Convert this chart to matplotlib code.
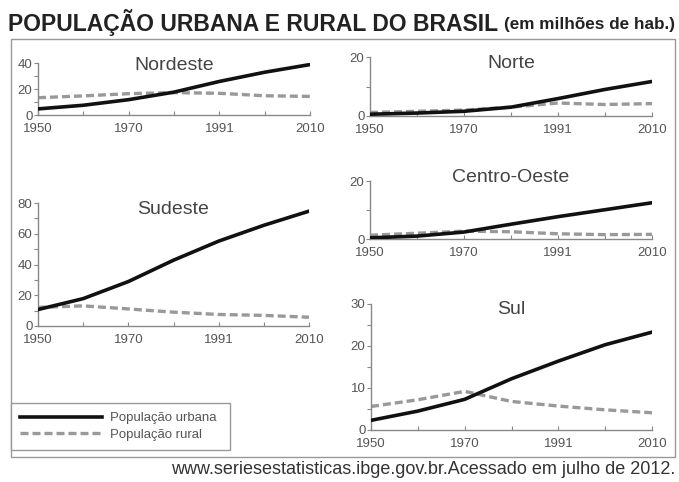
import matplotlib.pyplot as plt
from matplotlib.patches import Rectangle
from matplotlib.lines import Line2D

plt.rcParams['font.family'] = ['Liberation Sans', 'DejaVu Sans']

# censos
anos = ['1950', '1960', '1970', '1980', '1991', '2000', '2010']
anos_rotulo = ['1950', '1970', '1991', '2010']

# milhoes de habitantes
nordeste_urb = [4.7, 7.5, 11.8, 17.6, 25.8, 32.9, 38.8]
nordeste_rur = [13.3, 14.7, 16.4, 17.2, 16.7, 14.8, 14.3]
norte_urb = [0.6, 1.0, 1.6, 3.0, 5.9, 9.0, 11.7]
norte_rur = [1.2, 1.6, 2.0, 3.0, 4.4, 3.9, 4.2]
sudeste_urb = [10.7, 17.8, 28.9, 42.8, 55.2, 65.5, 74.7]
sudeste_rur = [12.1, 13.1, 11.1, 9.0, 7.5, 6.9, 5.7]
co_urb = [0.4, 1.0, 2.4, 5.1, 7.7, 10.1, 12.5]
co_rur = [1.3, 2.0, 2.7, 2.5, 1.8, 1.5, 1.6]
sul_urb = [2.3, 4.5, 7.3, 12.2, 16.4, 20.3, 23.3]
sul_rur = [5.6, 7.2, 9.2, 6.8, 5.7, 4.8, 4.1]

W, H = 679, 482
fig = plt.figure(figsize=(W / 100, H / 100), dpi=100)

def box(x0, x1, ytop, ybot):
    return [x0 / W, 1 - ybot / H, (x1 - x0) / W, (ybot - ytop) / H]

paineis = [
    ('Nordeste', nordeste_urb, nordeste_rur, box(38, 310, 63, 115), 40, 20, 10, 66),
    ('Norte', norte_urb, norte_rur, box(370, 652, 57, 116), 20, 20, 10, 64),
    ('Sudeste', sudeste_urb, sudeste_rur, box(38, 309, 203, 326), 80, 20, 10, 209),
    ('Centro-Oeste', co_urb, co_rur, box(370, 652, 181, 239), 20, 20, 10, 178),
    ('Sul', sul_urb, sul_rur, box(371, 652, 304, 430), 30, 10, 5, 310),
]

x = list(range(len(anos)))
cinza = '#555555'
tracejado = (0, (2.4, 1.2))
for nome, urb, rur, pos, ymax, passo, menor, ytit in paineis:
    ax = fig.add_axes(pos)
    ax.plot(x, rur, color='#999999', lw=2.4, ls=tracejado, zorder=2)
    ax.plot(x, urb, color='#111111', lw=2.6, zorder=3)
    ax.set_xlim(0, len(anos) - 1)
    ax.set_ylim(0, ymax)
    ax.set_xticks([anos.index(a) for a in anos_rotulo])
    ax.set_xticklabels(anos_rotulo)
    ax.set_xticks([1, 3, 5], minor=True)
    ax.set_yticks(range(0, ymax + 1, passo))
    ax.set_yticks(range(0, ymax + 1, menor), minor=True)
    for s in ['top', 'right']:
        ax.spines[s].set_visible(False)
    for s in ['left', 'bottom']:
        ax.spines[s].set_color('#888888')
        ax.spines[s].set_linewidth(1)
    ax.tick_params(which='both', colors='#888888', labelcolor=cinza,
                   labelsize=9.5, length=3, width=0.8, pad=1)
    ax.tick_params(axis='x', which='both', direction='in', pad=6)
    ax.patch.set_alpha(0)
    cx = (pos[0] + pos[2] / 2)
    fig.text(cx, 1 - ytit / H, nome, ha='center', va='center',
             fontsize=14, color='#444444')

# moldura
fig.patches.append(Rectangle((11 / W, 1 - 457 / H), 664 / W, 418 / H,
                             transform=fig.transFigure, fill=False,
                             edgecolor='#999999', lw=1))

# legenda
handles = [Line2D([], [], color='#111111', lw=2.6),
           Line2D([], [], color='#999999', lw=2.4, ls=tracejado)]
leg = fig.legend(handles, ['População urbana', 'População rural'],
                 loc='upper left',
                 bbox_to_anchor=(11 / W, 1 - 457 / H, 219 / W, 54 / H),
                 mode='expand', fontsize=9.5, handlelength=6.2,
                 handletextpad=0.6, labelspacing=0.3, borderpad=0.7,
                 borderaxespad=0, fancybox=False, framealpha=1,
                 edgecolor='#999999', labelcolor=cinza)
leg.get_frame().set_linewidth(1)

# titulo
fig.text(8 / W, 1 - 23 / H, 'POPULAÇÃO URBANA E RURAL DO BRASIL',
         fontsize=16.5, fontweight='bold', color='#222222', va='center')
fig.text(675 / W, 1 - 24 / H, '(em milhões de hab.)', fontsize=12.3,
         fontweight='bold', color='#222222', va='center', ha='right')
fig.text(675 / W, 1 - 470 / H,
         'www.seriesestatisticas.ibge.gov.br.Acessado em julho de 2012.',
         fontsize=13, color='#333333', va='center', ha='right')

fig.savefig('out.png', dpi=100)
